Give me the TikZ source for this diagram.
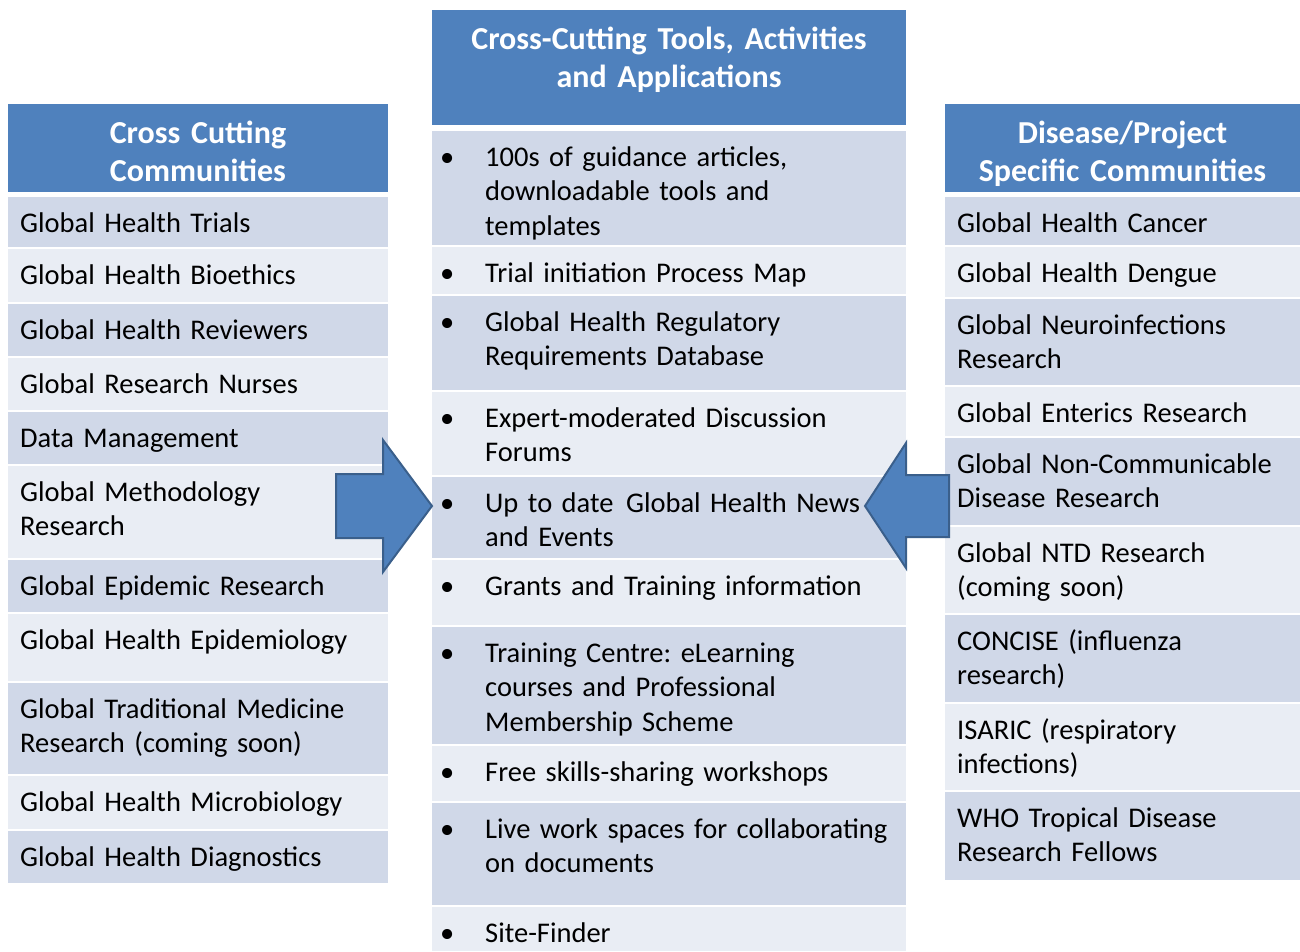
\documentclass[tikz,border=0pt]{standalone}
\usepackage{fontspec}
\setmainfont{Carlito}
\frenchspacing
\definecolor{hdrblue}{HTML}{4F81BD}
\definecolor{rowdark}{HTML}{D0D8E8}
\definecolor{rowlight}{HTML}{E9EDF4}
\definecolor{arrowedge}{HTML}{3A5F8B}
\newcommand{\bul}{\leavevmode\llap{\textbullet\hspace{31pt}}}
\tikzset{
  cell/.style={anchor=north west, inner sep=0pt, outer sep=0pt},
  hdr/.style={cell, fill=hdrblue},
  dark/.style={cell, fill=rowdark},
  light/.style={cell, fill=rowlight},
  lcol/.style={minimum width=380pt},
  mcol/.style={minimum width=474pt},
  rcol/.style={minimum width=355pt},
  htxt/.style={anchor=base, inner sep=0pt, align=center, text width=340pt, text=white, yshift=-39pt, font=\bfseries\fontsize{32}{38.3}\selectfont},
  txt/.style={anchor=base west, inner sep=0pt, align=left, text width=440pt, yshift=-35pt, font=\fontsize{28.5}{34.5}\selectfont},
  ltxt/.style={txt, xshift=12pt},
  mtxt/.style={txt, xshift=53pt},
  blockarrow/.style={fill=hdrblue, draw=arrowedge, line width=2pt, line join=miter},
}
\begin{document}
\begin{tikzpicture}[x=1pt, y=-1pt]
    \useasboundingbox (0,0) rectangle (1300,951);
    % cross cutting communities
    \node[hdr, lcol, minimum height=88pt] (cchead) at (8,104) {};
    \node[htxt] (ccheadtxt) at (cchead.north) {Cross Cutting\\Communities};
    \node[dark, lcol, minimum height=50pt] (trials) at (8,197) {};
    \node[ltxt] (trialstxt) at (trials.north west) {Global Health Trials};
    \node[light, lcol, minimum height=53pt] (bioethics) at (8,249) {};
    \node[ltxt] (bioethicstxt) at (bioethics.north west) {Global Health Bioethics};
    \node[dark, lcol, minimum height=52pt] (reviewers) at (8,304) {};
    \node[ltxt] (reviewerstxt) at (reviewers.north west) {Global Health Reviewers};
    \node[light, lcol, minimum height=52pt] (nurses) at (8,358) {};
    \node[ltxt] (nursestxt) at (nurses.north west) {Global Research Nurses};
    \node[dark, lcol, minimum height=52pt] (datamgmt) at (8,412) {};
    \node[ltxt] (datamgmttxt) at (datamgmt.north west) {Data Management};
    \node[light, lcol, minimum height=92pt] (method) at (8,466) {};
    \node[ltxt] (methodtxt) at (method.north west) {Global Methodology\\Research};
    \node[dark, lcol, minimum height=52pt] (epidemic) at (8,560) {};
    \node[ltxt] (epidemictxt) at (epidemic.north west) {Global Epidemic Research};
    \node[light, lcol, minimum height=67pt] (epidem) at (8,614) {};
    \node[ltxt] (epidemtxt) at (epidem.north west) {Global Health Epidemiology};
    \node[dark, lcol, minimum height=91pt] (tradmed) at (8,683) {};
    \node[ltxt] (tradmedtxt) at (tradmed.north west) {Global Traditional Medicine\\Research (coming soon)};
    \node[light, lcol, minimum height=53pt] (microbio) at (8,776) {};
    \node[ltxt] (microbiotxt) at (microbio.north west) {Global Health Microbiology};
    \node[dark, lcol, minimum height=52pt] (diagn) at (8,831) {};
    \node[ltxt] (diagntxt) at (diagn.north west) {Global Health Diagnostics};
    % tools, activities and applications
    \node[hdr, mcol, minimum height=115pt] (toolshead) at (432,10) {};
    \node[htxt, text width=460pt] (toolsheadtxt) at (toolshead.north) {Cross-Cutting Tools, Activities\\and Applications};
    \node[dark, mcol, minimum height=114pt] (guidance) at (432,131) {};
    \node[mtxt] (guidancetxt) at (guidance.north west) {\bul 100s of guidance articles,\\downloadable tools and\\templates};
    \node[light, mcol, minimum height=47pt] (procmap) at (432,247) {};
    \node[mtxt] (procmaptxt) at (procmap.north west) {\bul Trial initiation Process Map};
    \node[dark, mcol, minimum height=94pt] (regdb) at (432,296) {};
    \node[mtxt] (regdbtxt) at (regdb.north west) {\bul Global Health Regulatory\\Requirements Database};
    \node[light, mcol, minimum height=83pt] (forums) at (432,392) {};
    \node[mtxt] (forumstxt) at (forums.north west) {\bul Expert-moderated Discussion\\Forums};
    \node[dark, mcol, minimum height=81pt] (news) at (432,477) {};
    \node[mtxt] (newstxt) at (news.north west) {\bul Up to date\hspace{3pt} Global Health News\\and Events};
    \node[light, mcol, minimum height=65pt] (grants) at (432,560) {};
    \node[mtxt] (grantstxt) at (grants.north west) {\bul Grants and Training information};
    \node[dark, mcol, minimum height=117pt] (training) at (432,627) {};
    \node[mtxt] (trainingtxt) at (training.north west) {\bul Training Centre: eLearning\\courses and Professional\\Membership Scheme};
    \node[light, mcol, minimum height=55pt] (workshops) at (432,746) {};
    \node[mtxt] (workshopstxt) at (workshops.north west) {\bul Free skills-sharing workshops};
    \node[dark, mcol, minimum height=102pt] (workspaces) at (432,803) {};
    \node[mtxt] (workspacestxt) at (workspaces.north west) {\bul Live work spaces for collaborating\\on documents};
    \node[light, mcol, minimum height=44pt] (sitefinder) at (432,907) {};
    \node[mtxt] (sitefindertxt) at (sitefinder.north west) {\bul Site-Finder};
    % disease / project specific communities
    \node[hdr, rcol, minimum height=88pt] (dphead) at (945,104) {};
    \node[htxt] (dpheadtxt) at (dphead.north) {Disease/Project\\Specific Communities};
    \node[dark, rcol, minimum height=48pt] (cancer) at (945,197) {};
    \node[ltxt] (cancertxt) at (cancer.north west) {Global Health Cancer};
    \node[light, rcol, minimum height=50pt] (dengue) at (945,247) {};
    \node[ltxt] (denguetxt) at (dengue.north west) {Global Health Dengue};
    \node[dark, rcol, minimum height=86pt] (neuro) at (945,299) {};
    \node[ltxt] (neurotxt) at (neuro.north west) {Global Neuroinfections\\Research};
    \node[light, rcol, minimum height=49pt] (enterics) at (945,387) {};
    \node[ltxt] (entericstxt) at (enterics.north west) {Global Enterics Research};
    \node[dark, rcol, minimum height=87pt] (ncd) at (945,438) {};
    \node[ltxt] (ncdtxt) at (ncd.north west) {Global Non-Communicable\\Disease Research};
    \node[light, rcol, minimum height=86pt] (ntd) at (945,527) {};
    \node[ltxt] (ntdtxt) at (ntd.north west) {Global NTD Research\\(coming soon)};
    \node[dark, rcol, minimum height=87pt] (concise) at (945,615) {};
    \node[ltxt] (concisetxt) at (concise.north west) {CONCISE (influenza\\research)};
    \node[light, rcol, minimum height=86pt] (isaric) at (945,704) {};
    \node[ltxt] (isarictxt) at (isaric.north west) {ISARIC (respiratory\\infections)};
    \node[dark, rcol, minimum height=88pt] (tdr) at (945,792) {};
    \node[ltxt] (tdrtxt) at (tdr.north west) {WHO Tropical Disease\\Research Fellows};
    % block arrows into the middle column
    \draw[blockarrow] (336,474) -- (383,474) -- (383,440) -- (432,506) -- (383,572) -- (383,538) -- (336,538) -- cycle;
    \draw[blockarrow] (949,475) -- (906,475) -- (906,443) -- (865,506) -- (906,568) -- (906,537) -- (949,537) -- cycle;
\end{tikzpicture}
\end{document}
